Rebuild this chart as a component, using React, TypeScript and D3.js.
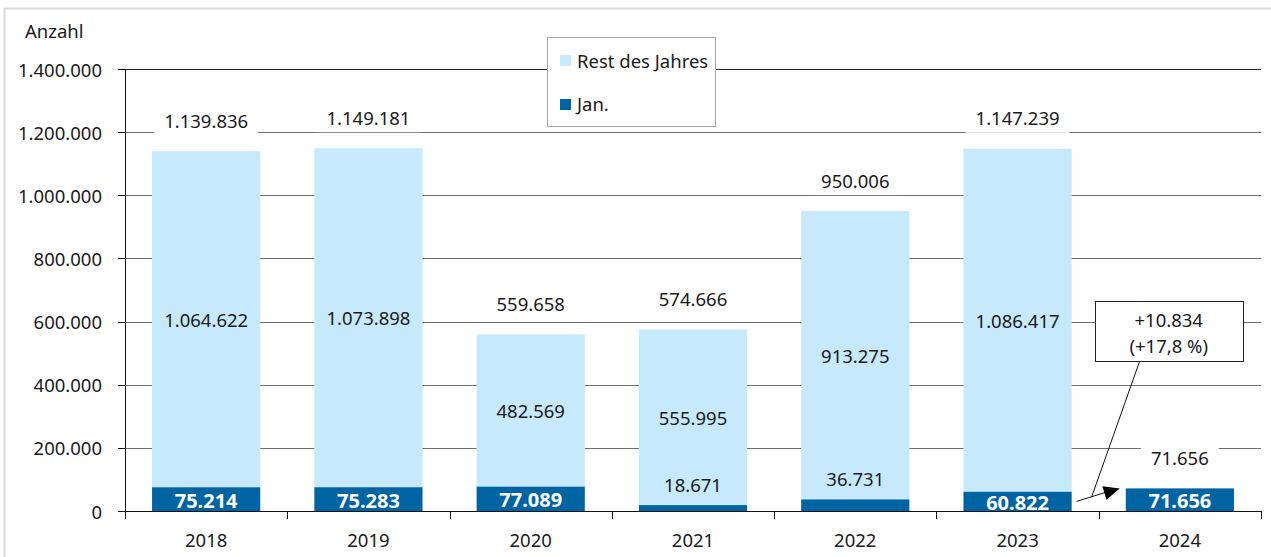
import * as d3 from 'd3'
import { useEffect, useRef } from 'react'

// Werte aus der Grafik
const years = ['2018', '2019', '2020', '2021', '2022', '2023', '2024']
const janValues = [75214, 75283, 77089, 18671, 36731, 60822, 71656]
const restValues = [1064622, 1073898, 482569, 555995, 913275, 1086417, 0]
const yTicks = [0, 200000, 400000, 600000, 800000, 1000000, 1200000, 1400000]
const legendLabels = ['Rest des Jahres', 'Jan.']
const changeLines = ['+10.834', '(+17,8 %)']
const yTitle = 'Anzahl'

const LIGHT = '#c6e9fc'
const DARK = '#0064a2'
const TEXT = '#1a1a1a'
const FONT = "'Noto Sans', sans-serif"

const de = d3.formatLocale({ decimal: ',', thousands: '.', grouping: [3], currency: ['', ' €'] })
const fmt = de.format(',d')

function App() {
    const ref = useRef<SVGSVGElement>(null)

    useEffect(() => {
        const svg = d3.select(ref.current)
        svg.selectAll('*').remove()

        const rows = years.map((year, i) => ({
            year,
            jan: janValues[i],
            rest: restValues[i],
            total: janValues[i] + restValues[i],
        }))

        const x = d3
            .scaleBand<string>()
            .domain(years)
            .range([125, 1261])
            .paddingInner(1 / 3)
            .paddingOuter(1 / 6)

        const y = d3.scaleLinear().domain([0, 1400000]).range([511, 69])
        const step = x.step()
        const bw = x.bandwidth()
        const left = 125
        const right = 1261

        // Rahmen
        svg.append('rect')
            .attr('x', 4.5)
            .attr('y', 8.5)
            .attr('width', 1300)
            .attr('height', 600)
            .attr('fill', 'white')
            .attr('stroke', '#d9d9d9')
            .attr('stroke-width', 2)

        const g = svg.append('g').style('font-family', FONT).style('font-size', '18.5px')

        // Gitterlinien
        g.append('g')
            .selectAll('line')
            .data(yTicks.slice(1))
            .enter()
            .append('line')
            .attr('x1', left)
            .attr('x2', right)
            .attr('y1', (d) => Math.round(y(d)) + 0.5)
            .attr('y2', (d) => Math.round(y(d)) + 0.5)
            .attr('stroke', (d, i) => (i === yTicks.length - 2 ? '#222' : '#6f6f6f'))
            .attr('stroke-width', 1)

        // Balken
        const bars = g.append('g')
        bars.selectAll('rect.rest')
            .data(rows)
            .enter()
            .append('rect')
            .attr('class', 'rest')
            .attr('x', (d) => x(d.year)!)
            .attr('width', bw)
            .attr('y', (d) => y(d.total))
            .attr('height', (d) => y(d.jan) - y(d.total))
            .attr('fill', LIGHT)
        bars.selectAll('rect.jan')
            .data(rows)
            .enter()
            .append('rect')
            .attr('class', 'jan')
            .attr('x', (d) => x(d.year)!)
            .attr('width', bw)
            .attr('y', (d) => y(d.jan))
            .attr('height', (d) => y(0) - y(d.jan))
            .attr('fill', DARK)

        // Achsen
        const axes = g.append('g').attr('stroke', '#111').attr('stroke-width', 1)
        axes.append('line').attr('x1', left + 0.5).attr('x2', left + 0.5).attr('y1', y(1400000)).attr('y2', y(0))
        axes.append('line').attr('x1', left).attr('x2', right + 0.5).attr('y1', y(0) + 0.5).attr('y2', y(0) + 0.5)
        axes.selectAll('line.yt')
            .data(yTicks)
            .enter()
            .append('line')
            .attr('class', 'yt')
            .attr('x1', left - 7)
            .attr('x2', left)
            .attr('y1', (d) => Math.round(y(d)) + 0.5)
            .attr('y2', (d) => Math.round(y(d)) + 0.5)
        axes.selectAll('line.xt')
            .data(d3.range(years.length + 1))
            .enter()
            .append('line')
            .attr('class', 'xt')
            .attr('x1', (i) => Math.round(left + i * step) + 0.5)
            .attr('x2', (i) => Math.round(left + i * step) + 0.5)
            .attr('y1', y(0))
            .attr('y2', y(0) + 8)

        g.append('g')
            .selectAll('text')
            .data(yTicks)
            .enter()
            .append('text')
            .attr('x', 102)
            .attr('y', (d) => y(d))
            .attr('text-anchor', 'end')
            .attr('dominant-baseline', 'central')
            .attr('fill', TEXT)
            .text((d) => fmt(d))

        g.append('g')
            .selectAll('text')
            .data(years)
            .enter()
            .append('text')
            .attr('x', (d) => x(d)! + bw / 2)
            .attr('y', 539)
            .attr('text-anchor', 'middle')
            .attr('dominant-baseline', 'central')
            .attr('fill', TEXT)
            .text((d) => d)

        g.append('text')
            .attr('x', 25)
            .attr('y', 30)
            .attr('dominant-baseline', 'central')
            .attr('fill', TEXT)
            .text(yTitle)

        // Beschriftungen
        const labels = g.append('g')
        rows.forEach((d) => {
            const cx = x(d.year)! + bw / 2
            if (d.rest > 0) {
                labels.append('text')
                    .attr('x', cx)
                    .attr('y', (y(d.total) + y(d.jan)) / 2)
                    .attr('text-anchor', 'middle')
                    .attr('dominant-baseline', 'central')
                    .attr('fill', TEXT)
                    .text(fmt(d.rest))
            }
            if (d.jan > 50000) {
                labels.append('text')
                    .attr('x', cx)
                    .attr('y', (y(d.jan) + y(0)) / 2 + 1)
                    .attr('text-anchor', 'middle')
                    .attr('dominant-baseline', 'central')
                    .attr('fill', 'white')
                    .style('font-weight', 'bold')
                    .style('font-size', '20px')
                    .text(fmt(d.jan))
            } else {
                labels.append('text')
                    .attr('x', cx)
                    .attr('y', y(d.jan) - 21)
                    .attr('text-anchor', 'middle')
                    .attr('dominant-baseline', 'central')
                    .attr('fill', TEXT)
                    .text(fmt(d.jan))
            }
            const tg = labels.append('g')
            const bg = tg.append('rect').attr('fill', 'white')
            const ty = y(d.total) - 31
            const t = tg.append('text')
                .attr('x', cx)
                .attr('y', ty)
                .attr('text-anchor', 'middle')
                .attr('dominant-baseline', 'central')
                .attr('fill', TEXT)
                .text(fmt(d.total))
            const w = (t.node() as SVGTextElement).getComputedTextLength()
            bg.attr('x', cx - w / 2 - 10)
                .attr('width', w + 20)
                .attr('y', ty - 15)
                .attr('height', 30)
        })

        // Legende
        const lg = g.append('g')
        lg.append('rect')
            .attr('x', 547.5)
            .attr('y', 37.5)
            .attr('width', 168)
            .attr('height', 89)
            .attr('fill', 'white')
            .attr('stroke', '#a6a6a6')
        legendLabels.forEach((label, i) => {
            lg.append('rect')
                .attr('x', 560)
                .attr('y', 55 + i * 44)
                .attr('width', 11)
                .attr('height', 11)
                .attr('fill', i === 0 ? LIGHT : DARK)
            lg.append('text')
                .attr('x', 577)
                .attr('y', 60 + i * 43)
                .attr('dominant-baseline', 'central')
                .attr('fill', TEXT)
                .text(label)
        })

        // Veränderung 2024 gegenüber 2023
        const a = g.append('g')
        const boxLeft = x('2024')! - step / 6 - 4
        const boxTop = y(664000)
        const boxBottom = y(475000)
        const boxCx = boxLeft + 74
        a.append('rect')
            .attr('x', Math.round(boxLeft) + 0.5)
            .attr('y', Math.round(boxTop) + 0.5)
            .attr('width', 148)
            .attr('height', Math.round(boxBottom - boxTop))
            .attr('fill', 'white')
            .attr('stroke', '#222')
        changeLines.forEach((line, i) => {
            a.append('text')
                .attr('x', boxCx)
                .attr('y', boxTop + 18 + i * 26)
                .attr('text-anchor', 'middle')
                .attr('dominant-baseline', 'central')
                .attr('fill', TEXT)
                .text(line)
        })

        const sx = x('2023')! + bw + 5
        const sy = y(janValues[5] / 2)
        const ex = x('2024')! - 6
        const ey = y(janValues[6])
        a.append('line')
            .attr('x1', sx)
            .attr('y1', sy)
            .attr('x2', ex - 12)
            .attr('y2', ey + 3.3)
            .attr('stroke', '#111')
        const ang = Math.atan2(ey - sy, ex - sx)
        const hl = 16
        const hw = 7
        const bx = ex - hl * Math.cos(ang)
        const by = ey - hl * Math.sin(ang)
        a.append('path')
            .attr('d', `M${ex},${ey}L${bx - hw * Math.sin(ang)},${by + hw * Math.cos(ang)}L${bx + hw * Math.sin(ang)},${by - hw * Math.cos(ang)}Z`)
            .attr('fill', '#000')
        const mx = sx + 15
        const my = sy + ((ey - sy) * 15) / (ex - sx)
        a.append('line')
            .attr('x1', boxCx - 29)
            .attr('y1', boxBottom)
            .attr('x2', mx)
            .attr('y2', my)
            .attr('stroke', '#111')
    }, [])

    return (
        <div style={{ position: 'absolute', left: 0, top: 0 }}>
            <svg ref={ref} width={1271} height={557} style={{ display: 'block' }} />
        </div>
    )
}

export default App
